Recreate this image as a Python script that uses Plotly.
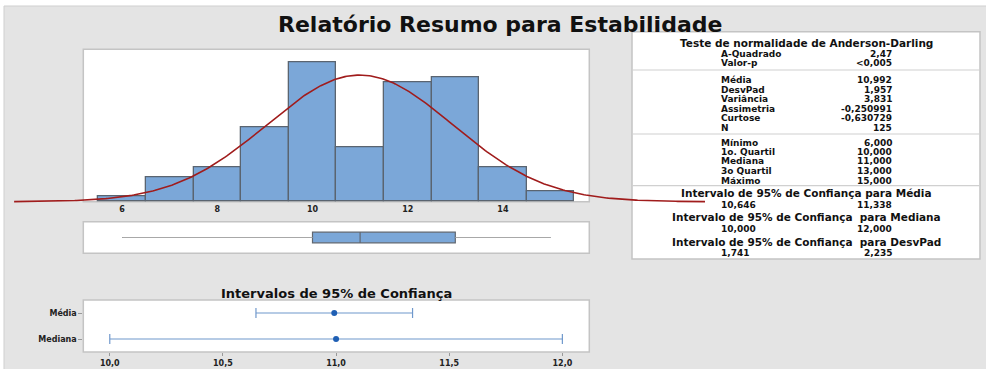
import numpy as np
import plotly.graph_objects as go

W, H = 986, 369

# ---------------- data ----------------
bin_centers = [6, 7, 8, 9, 10, 11, 12, 13, 14, 15]
bin_counts = [1, 5, 7, 15, 28, 11, 24, 25, 7, 2]
hist_ticks = [6, 8, 10, 12, 14]
hist_ticklabels = ["6", "8", "10", "12", "14"]

mean_val = 10.992
sd_val = 1.957
n_val = 125

box_min, box_q1, box_med, box_q3, box_max = 6, 10, 11, 13, 15

ci_names = ["Média", "Mediana"]
ci_center = [10.992, 11.0]
ci_low = [10.646, 10.0]
ci_high = [11.338, 12.0]
ci_ticks = [10.0, 10.5, 11.0, 11.5, 12.0]
ci_ticklabels = ["10,0", "10,5", "11,0", "11,5", "12,0"]

ad_title = "Teste de normalidade de Anderson-Darling"
ad_labels = ["A-Quadrado", "Valor-p"]
ad_values = ["2,47", "&lt;0,005"]
mom_labels = ["Média", "DesvPad", "Variância", "Assimetria", "Curtose", "N"]
mom_values = ["10,992", "1,957", "3,831", "-0,250991", "-0,630729", "125"]
q_labels = ["Mínimo", "1o. Quartil", "Mediana", "3o Quartil", "Máximo"]
q_values = ["6,000", "10,000", "11,000", "13,000", "15,000"]
ci_headers = ["Intervalo de 95% de Confiança para Média",
              "Intervalo de 95% de Confiança  para Mediana",
              "Intervalo de 95% de Confiança  para DesvPad"]
ci_lows_txt = ["10,646", "10,000", "1,741"]
ci_highs_txt = ["11,338", "12,000", "2,235"]

title_text = "Relatório Resumo para Estabilidade"
ci_title_text = "Intervalos de 95% de Confiança"

# ---------------- helpers ----------------
def fx(p):
    return p / W

def fy(p):
    return 1 - p / H

FONT = "DejaVu Sans"
BG = "#e4e4e4"
BAR = "#7ba7d8"
BAR_EDGE = "#5a6470"
CURVE = "#a01c1c"
PANEL_EDGE = "#c4c4c4"

# pixel scale of histogram / boxplot axis
x0_px, x0_val, ppu = 98.3, 5.5, 47.6
def val_at(p):
    return x0_val + (p - x0_px) / ppu

fig = go.Figure()

# histogram bars
fig.add_trace(go.Bar(
    x=bin_centers, y=bin_counts, width=1.0,
    marker=dict(color=BAR, line=dict(color=BAR_EDGE, width=1.3)),
    xaxis="x", yaxis="y", showlegend=False, hoverinfo="skip"))

# fitted normal curve
half_span = 3.71 * sd_val
xs = np.linspace(mean_val - half_span, mean_val + half_span, 400)
ys = n_val * 1.0 / (sd_val * np.sqrt(2 * np.pi)) * np.exp(-0.5 * ((xs - mean_val) / sd_val) ** 2)
fig.add_trace(go.Scatter(x=xs, y=ys, mode="lines",
                         line=dict(color=CURVE, width=1.6),
                         xaxis="x", yaxis="y", showlegend=False, hoverinfo="skip"))

# boxplot
fig.add_trace(go.Box(
    y=[0], q1=[box_q1], median=[box_med], q3=[box_q3],
    lowerfence=[box_min], upperfence=[box_max], orientation="h",
    width=0.67, whiskerwidth=0, fillcolor=BAR,
    line=dict(color="#5f6670", width=1.2),
    xaxis="x2", yaxis="y2", showlegend=False, hoverinfo="skip"))
fig.add_trace(go.Scatter(
    x=[box_min, box_q1, None, box_q3, box_max], y=[0, 0, None, 0, 0],
    mode="lines", line=dict(color="#a8a8a8", width=1.2),
    xaxis="x2", yaxis="y2", showlegend=False, hoverinfo="skip"))

# confidence intervals
fig.add_trace(go.Scatter(
    x=ci_center, y=ci_names, mode="markers",
    marker=dict(color="#1f5fb4", size=6),
    error_x=dict(type="data", symmetric=False,
                 array=[h - c for h, c in zip(ci_high, ci_center)],
                 arrayminus=[c - l for c, l in zip(ci_center, ci_low)],
                 color="#6f98cc", thickness=1.2, width=5),
    xaxis="x3", yaxis="y3", showlegend=False, hoverinfo="skip"))

# ---------------- shapes (panels) ----------------
shapes = []
shapes.append(dict(type="rect", xref="paper", yref="paper", layer="below",
                   x0=fx(4), x1=fx(W + 2), y0=fy(H + 2), y1=fy(6),
                   fillcolor=BG, line=dict(color="#cfcfcf", width=1)))
for (l, t, r, b) in [(83.3, 49.3, 589.3, 201.7),
                     (83.3, 221.7, 589.3, 253.3),
                     (83.3, 300.0, 589.3, 352.0),
                     (632, 31.7, 980, 259)]:
    shapes.append(dict(type="rect", xref="paper", yref="paper", layer="below",
                       x0=fx(l), x1=fx(r), y0=fy(b), y1=fy(t),
                       fillcolor="white", line=dict(color=PANEL_EDGE, width=1.5)))
for yy in [70, 134, 185.7]:
    shapes.append(dict(type="line", xref="paper", yref="paper", layer="below",
                       x0=fx(632), x1=fx(980), y0=fy(yy), y1=fy(yy),
                       line=dict(color="#d0d0d0", width=1.2)))

# ---------------- annotations ----------------
ann = []
ann.append(dict(text=title_text, x=fx(500), y=fy(24.5), xref="paper", yref="paper",
                xanchor="center", yanchor="middle", showarrow=False,
                font=dict(family=FONT, size=22, color="#111", weight="bold")))
ann.append(dict(text=ci_title_text, x=fx(336.5), y=fy(293.5), xref="paper", yref="paper",
                xanchor="center", yanchor="middle", showarrow=False,
                font=dict(family=FONT, size=13, color="#111", weight="bold")))

pfont = dict(family=FONT, size=9, color="#111", weight="bold")
hfont = dict(family=FONT, size=10.5, color="#111", weight="bold")
LX, RX, CX = 720, 893.3, 806

def center_row(txt, py):
    ann.append(dict(text=txt, x=fx(CX), y=fy(py), xref="paper", yref="paper",
                    xanchor="center", yanchor="middle", showarrow=False, font=hfont,
                    borderpad=0))

def pair_row(lbl, val, py):
    ann.append(dict(text=lbl, x=fx(LX), y=fy(py), xref="paper", yref="paper",
                    xanchor="left", yanchor="middle", showarrow=False, font=pfont,
                    borderpad=0))
    ann.append(dict(text=val, x=fx(RX), y=fy(py), xref="paper", yref="paper",
                    xanchor="right", yanchor="middle", showarrow=False, font=pfont,
                    borderpad=0))

center_row(ad_title, 43)
for lbl, val, py in zip(ad_labels, ad_values, [54.3, 63.3]):
    pair_row(lbl, val, py)
for lbl, val, py in zip(mom_labels, mom_values, [80, 89.7, 99, 108.7, 118.3, 127.7]):
    pair_row(lbl, val, py)
for lbl, val, py in zip(q_labels, q_values, [142.7, 152, 161.3, 171, 180.7]):
    pair_row(lbl, val, py)
for hdr, lo, hi, ph, pv in zip(ci_headers, ci_lows_txt, ci_highs_txt,
                               [193.3, 217.3, 241.7], [205, 229.3, 253.3]):
    center_row(hdr, ph)
    pair_row(lo, hi, pv)

# ---------------- layout ----------------
small = dict(family=FONT, size=8, color="#222", weight="bold")
fig.update_layout(
    width=W, height=H, margin=dict(l=0, r=0, t=0, b=0),
    paper_bgcolor="white", plot_bgcolor="rgba(0,0,0,0)",
    shapes=shapes, annotations=ann, bargap=0,
    xaxis=dict(domain=[fx(14), fx(705)], range=[val_at(14), val_at(705)],
               tickvals=hist_ticks, ticktext=hist_ticklabels, tickfont=small,
               ticks="", showgrid=False, zeroline=False, showline=False, anchor="y"),
    yaxis=dict(domain=[fy(203.2), fy(49.3)], range=[-0.3, 30.66], visible=False,
               showgrid=False, zeroline=False, anchor="x"),
    xaxis2=dict(domain=[fx(83.3), fx(589.3)], range=[val_at(83.3), val_at(589.3)],
                visible=False, showgrid=False, zeroline=False, anchor="y2"),
    yaxis2=dict(domain=[fy(253.3), fy(221.7)], range=[-1, 1], visible=False,
                showgrid=False, zeroline=False, anchor="x2"),
    xaxis3=dict(domain=[fx(83.3), fx(589.3)], range=[9.883, 12.119],
                tickvals=ci_ticks, ticktext=ci_ticklabels, tickfont=small,
                ticks="outside", ticklen=3, tickcolor="#999", showgrid=False,
                zeroline=False, showline=False, anchor="y3"),
    yaxis3=dict(domain=[fy(352), fy(300)], type="category",
                categoryorder="array", categoryarray=["Mediana", "Média"],
                range=[-0.5, 1.5], tickfont=small, ticks="outside", ticklen=4,
                tickcolor="#999", showgrid=False, zeroline=False, showline=False,
                anchor="x3"),
)

fig.write_html("out.html")
